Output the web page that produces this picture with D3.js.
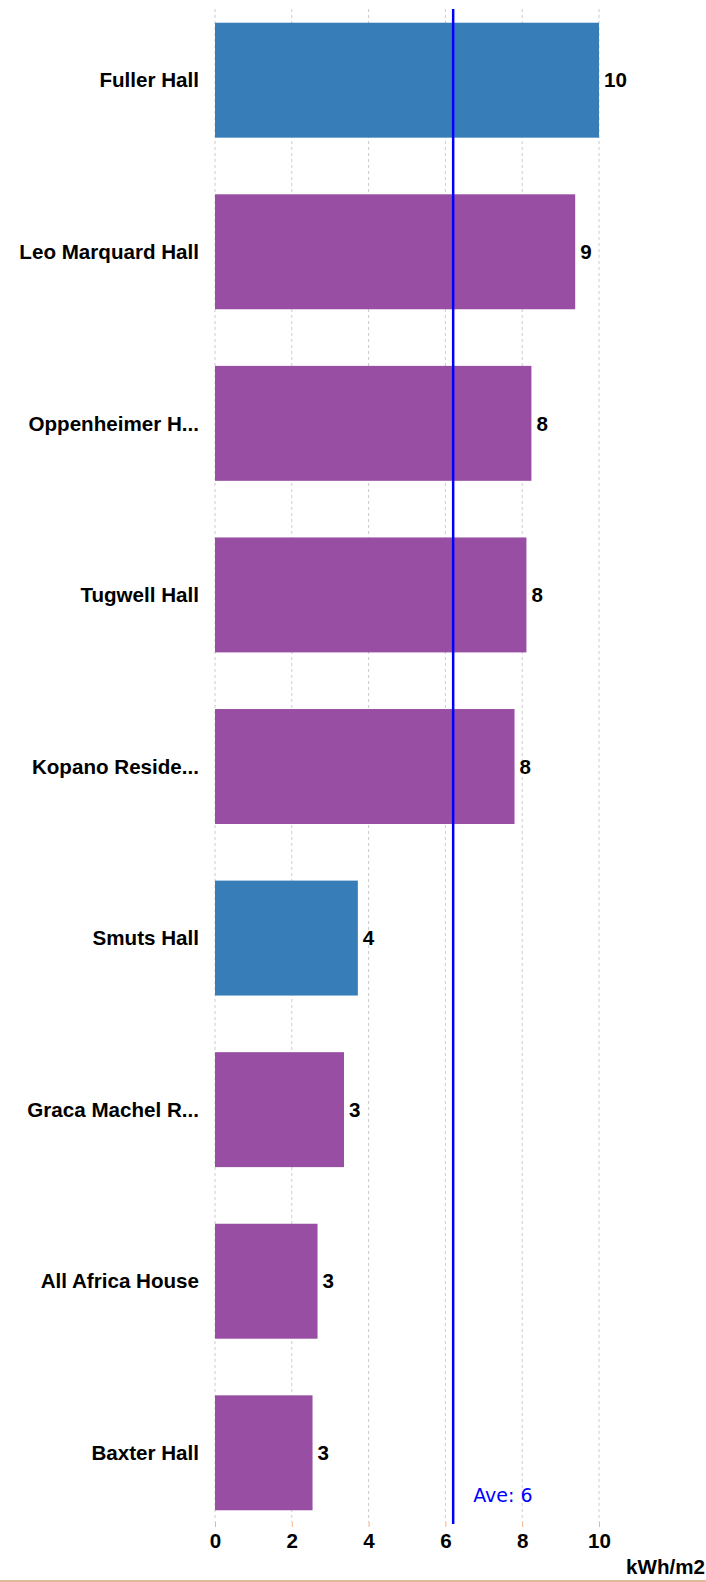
<!DOCTYPE html>
<html lang="en">

<head>
    <meta charset="UTF-8">
    <title>Residence energy use</title>
    <script src="https://d3js.org/d3.v7.min.js"></script>
    <style>
        body { margin: 0; background: #fff; }
    </style>
</head>

<body>
    <script>
        let width = 706;
        let height = 1582;

        // data
        const halls = ["Fuller Hall", "Leo Marquard Hall", "Oppenheimer H...", "Tugwell Hall",
            "Kopano Reside...", "Smuts Hall", "Graca Machel R...", "All Africa House", "Baxter Hall"];
        const usage = [10.0, 9.38, 8.24, 8.11, 7.80, 3.72, 3.36, 2.67, 2.54];
        const highlighted = ["Fuller Hall", "Smuts Hall"];
        const xTicks = [0, 2, 4, 6, 8, 10];
        const unitLabel = "kWh/m2";

        const data = halls.map((h, i) => ({ name: h, value: usage[i] }));
        const avg = d3.mean(usage);

        let svg = d3.select("body")
            .append("svg")
            .attr("width", width)
            .attr("height", height);

        let x = d3.scaleLinear().domain([0, 10]).range([215, 599]);
        let y = d3.scaleBand().domain(halls).range([9, 1524])
            .paddingInner(0.33).paddingOuter(0.08);

        const labelFont = "'Liberation Sans', Arial, sans-serif";
        const labelSize = "20.6px";

        // dashed grid lines
        svg.append("g")
            .selectAll("line")
            .data(xTicks)
            .enter()
            .append("line")
            .attr("x1", d => x(d)).attr("x2", d => x(d))
            .attr("y1", 9).attr("y2", 1522)
            .style("stroke", "#cccccc")
            .style("stroke-width", 1)
            .style("stroke-dasharray", "3,3");

        // bars
        svg.append("g")
            .selectAll("rect")
            .data(data)
            .enter()
            .append("rect")
            .attr("x", x(0))
            .attr("y", d => y(d.name))
            .attr("width", d => x(d.value) - x(0))
            .attr("height", y.bandwidth())
            .style("fill", d => highlighted.includes(d.name) ? "#377eb8" : "#984ea3");

        // value labels
        svg.append("g")
            .selectAll("text")
            .data(data)
            .enter()
            .append("text")
            .attr("x", d => x(d.value) + 5)
            .attr("y", d => y(d.name) + y.bandwidth() / 2)
            .attr("dy", "0.35em")
            .style("font-family", labelFont)
            .style("font-weight", "bold")
            .style("font-size", labelSize)
            .style("fill", "#000")
            .text(d => Math.round(d.value));

        // category labels
        svg.append("g")
            .selectAll("text")
            .data(data)
            .enter()
            .append("text")
            .attr("x", 199)
            .attr("y", d => y(d.name) + y.bandwidth() / 2)
            .attr("dy", "0.35em")
            .attr("text-anchor", "end")
            .style("font-family", labelFont)
            .style("font-weight", "bold")
            .style("font-size", labelSize)
            .style("fill", "#000")
            .text(d => d.name);

        // x axis
        let xAxis = svg.append("g")
            .attr("transform", "translate(0,1522)")
            .call(d3.axisBottom(x).tickValues(xTicks).tickSize(5).tickPadding(6).tickFormat(d3.format("d")));
        xAxis.select(".domain").remove();
        xAxis.selectAll(".tick line").style("stroke", "#f4b183").style("stroke-width", 1);
        xAxis.selectAll(".tick text")
            .style("font-family", labelFont)
            .style("font-weight", "bold")
            .style("font-size", labelSize)
            .style("fill", "#000");

        // average line
        svg.append("line")
            .attr("x1", x(avg)).attr("x2", x(avg))
            .attr("y1", 9).attr("y2", 1524)
            .style("stroke", "#0000ff")
            .style("stroke-width", 2.5);

        svg.append("text")
            .attr("x", x(avg) + 20)
            .attr("y", 1502)
            .style("font-family", "'DejaVu Sans', Verdana, sans-serif")
            .style("font-size", "19px")
            .style("fill", "#0000ff")
            .text("Ave: " + Math.round(avg));

        // unit label
        svg.append("text")
            .attr("x", 705)
            .attr("y", 1574)
            .attr("text-anchor", "end")
            .style("font-family", labelFont)
            .style("font-weight", "bold")
            .style("font-size", labelSize)
            .style("fill", "#000")
            .text(unitLabel);

        // bottom border
        svg.append("line")
            .attr("x1", 0).attr("x2", width)
            .attr("y1", 1581).attr("y2", 1581)
            .style("stroke", "#d4a373")
            .style("stroke-width", 1.5);
    </script>
</body>

</html>
